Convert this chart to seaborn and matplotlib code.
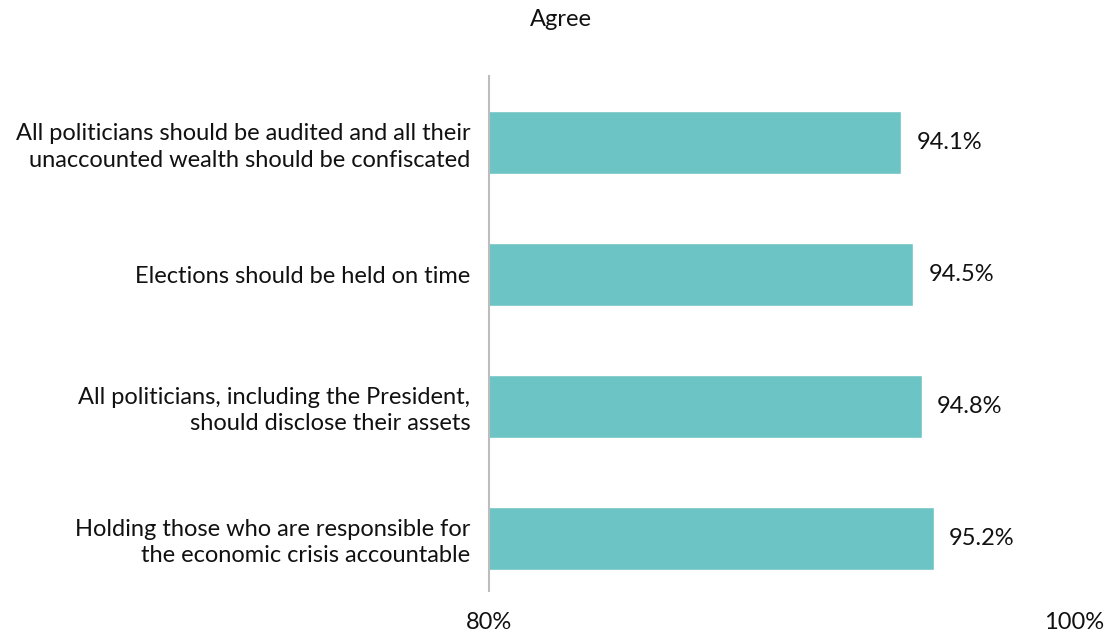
import matplotlib
matplotlib.use("Agg")
import matplotlib.pyplot as plt
import seaborn as sns
import pandas as pd

statements = [
    "All politicians should be audited and all their\nunaccounted wealth should be confiscated",
    "Elections should be held on time",
    "All politicians, including the President,\nshould disclose their assets",
    "Holding those who are responsible for\nthe economic crisis accountable",
]
agree_pct = [94.1, 94.5, 94.8, 95.2]
tick_values = [80, 100]
tick_labels = ["80%", "100%"]

sns.set_theme(style="white")
plt.rcParams["font.family"] = ["Lato", "DejaVu Sans"]

FS = 17

df = pd.DataFrame({"statement": statements, "agree": agree_pct})

fig = plt.figure(figsize=(11.12, 6.34), dpi=100)
ax = fig.add_axes([489 / 1112, 1 - 591 / 634, (1074 - 489) / 1112, (591 - 76.5) / 634])

sns.barplot(data=df, x="agree", y="statement", orient="h", color="#6DC4C5",
            saturation=1, width=0.48, ax=ax)

ax.set_xlim(80, 100)
ax.set_ylim(3.4, -0.5)
ax.set_xticks(tick_values)
ax.set_xticklabels(tick_labels)
ax.set_xlabel("")
ax.set_ylabel("")

for side in ["top", "right", "bottom"]:
    ax.spines[side].set_visible(False)
ax.spines["left"].set_color("#BDBDBD")
ax.spines["left"].set_linewidth(1.5)

ax.tick_params(axis="y", length=0, pad=13.5, labelsize=FS, labelcolor="#111111")
ax.tick_params(axis="x", length=0, pad=15, labelsize=FS, labelcolor="#111111")
for lbl in ax.get_yticklabels():
    lbl.set_linespacing(1.3)

ax.bar_label(ax.containers[0], labels=[f"{v:.1f}%" for v in agree_pct],
             padding=11, fontsize=FS, color="#111111")

fig.text(561 / 1112, 1 - 19 / 634, "Agree", ha="center", va="center",
         fontsize=FS, color="#111111")

fig.savefig("out.png", dpi=100)
